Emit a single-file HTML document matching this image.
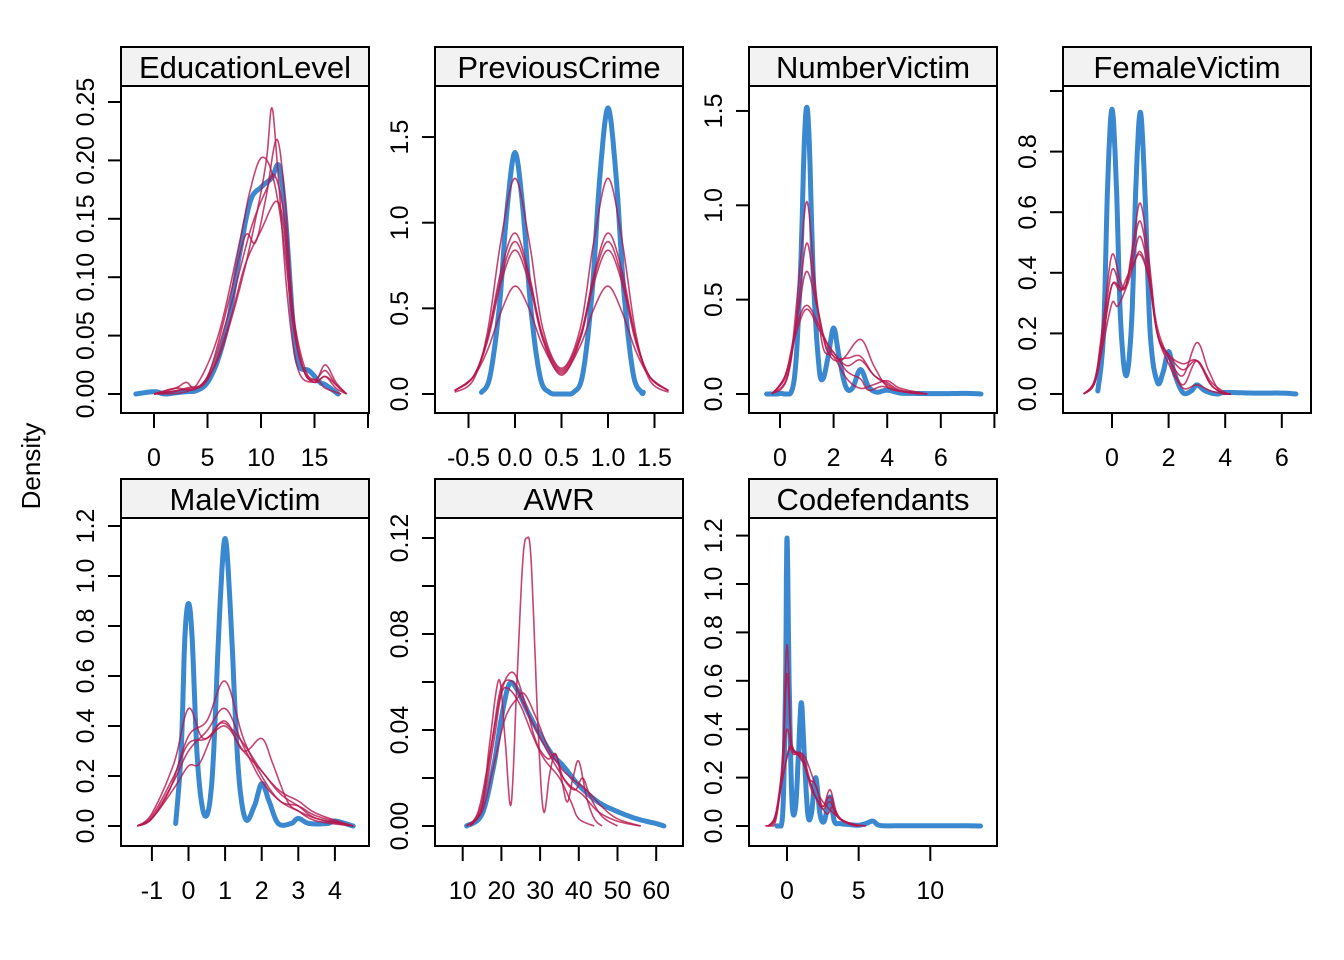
<!DOCTYPE html>
<html><head><meta charset="utf-8"><style>
html,body{margin:0;padding:0;background:#fff;}
svg{display:block;font-family:"Liberation Sans",Arial,sans-serif;}
</style></head><body>
<svg id="chart" width="1344" height="960" viewBox="0 0 1344 960">
<rect width="1344" height="960" fill="#fff"/>
<text x="40" y="466" transform="rotate(-90 40 466)" text-anchor="middle" font-size="26">Density</text>
</svg>
<script>
// ---- data (density knots: [x, density]) ----
const eduBlue=[[-1.7,0],[0,0.002],[1,0],[2,0.001],[3,0.002],[4,0.003],[5,0.01],[6,0.03],[7,0.065],[8,0.12],[9,0.165],[10,0.177],[11,0.185],[11.7,0.195],[12.3,0.15],[13,0.06],[13.5,0.025],[14.5,0.02],[15.5,0.01],[16,0.008],[17.2,0]];
const eduReds=[
[[0,0],[2,0.005],[4,0.005],[6,0.03],[8,0.09],[9.5,0.15],[10.5,0.2],[11,0.245],[11.5,0.2],[12.5,0.08],[13.5,0.02],[15,0.01],[16,0.015],[17,0.005],[18,0]],
[[0,0],[3,0.005],[5,0.015],[7,0.08],[8.5,0.135],[9.5,0.13],[10.5,0.17],[11.5,0.218],[12.3,0.16],[13,0.07],[14,0.02],[15,0.012],[16,0.02],[17,0.008],[18,0]],
[[0,0],[2,0.005],[3,0.01],[4,0.008],[6,0.05],[8,0.13],[9,0.175],[10,0.202],[11,0.19],[12,0.14],[13,0.06],[14,0.02],[15.5,0.01],[16,0.005],[17.5,0]],
[[0,0],[3,0.002],[5,0.015],[7,0.07],[9,0.14],[10.5,0.175],[11.3,0.187],[12.2,0.15],[13,0.07],[14,0.025],[15,0.01],[16,0.025],[17,0.01],[18,0]],
[[0,0],[3,0.004],[5,0.012],[7,0.06],[8.5,0.11],[10,0.14],[11.5,0.165],[12.3,0.13],[13,0.06],[14,0.02],[15,0.01],[16,0.015],[17,0.008],[18,0]]];
const prevBlue=[[-0.36,0.01],[-0.27,0.1],[-0.17,0.5],[-0.09,1.05],[0,1.41],[0.09,1.05],[0.17,0.5],[0.27,0.1],[0.37,0.01],[0.5,0],[0.63,0.01],[0.73,0.12],[0.83,0.6],[0.91,1.25],[1,1.67],[1.09,1.25],[1.17,0.6],[1.27,0.12],[1.36,0.01],[1.38,0.01]];
const prevReds=[
[[-0.65,0.01],[-0.45,0.08],[-0.3,0.35],[-0.15,0.9],[0,1.26],[0.15,0.9],[0.3,0.38],[0.5,0.15],[0.7,0.38],[0.85,0.9],[1,1.26],[1.15,0.9],[1.3,0.35],[1.45,0.08],[1.65,0.01]],
[[-0.65,0.02],[-0.45,0.1],[-0.3,0.32],[-0.15,0.72],[0,0.94],[0.15,0.7],[0.3,0.32],[0.5,0.11],[0.7,0.32],[0.85,0.7],[1,0.94],[1.15,0.72],[1.3,0.32],[1.45,0.1],[1.65,0.02]],
[[-0.65,0.02],[-0.45,0.1],[-0.3,0.32],[-0.15,0.68],[0,0.89],[0.15,0.68],[0.3,0.34],[0.5,0.14],[0.7,0.34],[0.85,0.68],[1,0.89],[1.15,0.68],[1.3,0.32],[1.45,0.1],[1.65,0.02]],
[[-0.65,0.02],[-0.45,0.1],[-0.3,0.3],[-0.15,0.65],[0,0.84],[0.15,0.65],[0.3,0.32],[0.5,0.13],[0.7,0.32],[0.85,0.65],[1,0.84],[1.15,0.65],[1.3,0.3],[1.45,0.1],[1.65,0.02]],
[[-0.65,0.02],[-0.45,0.1],[-0.3,0.25],[-0.15,0.48],[0,0.63],[0.15,0.5],[0.3,0.28],[0.5,0.12],[0.7,0.28],[0.85,0.5],[1,0.63],[1.15,0.48],[1.3,0.25],[1.45,0.1],[1.65,0.02]]];
const numBlue=[[-0.5,0],[0,0.003],[0.5,0.05],[0.75,0.6],[0.9,1.3],[1,1.52],[1.1,1.3],[1.25,0.6],[1.45,0.15],[1.6,0.08],[1.8,0.2],[2,0.35],[2.2,0.2],[2.45,0.04],[2.7,0.03],[3,0.13],[3.3,0.04],[3.6,0.01],[4,0.02],[4.5,0.005],[5,0.003],[6,0.002],[7,0.003],[7.5,0]];
const numReds=[
[[-0.3,0],[0.3,0.1],[0.7,0.6],[1,1.02],[1.3,0.6],[1.6,0.25],[2,0.2],[2.5,0.08],[3,0.03],[3.5,0.05],[4,0.07],[4.5,0.03],[5.5,0]],
[[-0.3,0],[0.3,0.1],[0.7,0.5],[1,0.8],[1.3,0.55],[1.7,0.25],[2,0.22],[2.5,0.12],[3,0.08],[3.3,0.02],[3.8,0.04],[4.3,0.02],[5.2,0]],
[[-0.3,0],[0.3,0.12],[0.7,0.45],[1,0.65],[1.4,0.45],[1.8,0.22],[2.3,0.18],[3,0.29],[3.5,0.15],[4,0.04],[4.7,0.01],[5.5,0]],
[[-0.3,0],[0.2,0.1],[0.6,0.35],[1,0.47],[1.5,0.35],[2,0.2],[2.5,0.19],[3,0.2],[3.5,0.1],[4,0.06],[4.5,0.02],[5.5,0]],
[[-0.3,0],[0.2,0.1],[0.6,0.32],[1,0.45],[1.5,0.33],[2,0.22],[2.5,0.15],[3,0.18],[3.5,0.1],[4,0.05],[4.5,0.015],[5.5,0]]];
const femBlue=[[-0.5,0.01],[-0.3,0.2],[-0.15,0.7],[0,0.94],[0.15,0.7],[0.3,0.25],[0.5,0.06],[0.7,0.25],[0.85,0.7],[1,0.93],[1.15,0.7],[1.35,0.2],[1.6,0.04],[1.8,0.07],[2,0.14],[2.2,0.07],[2.5,0.005],[2.8,0.01],[3,0.03],[3.3,0.01],[3.7,0],[4,0.005],[5,0.003],[6,0.003],[6.5,0]];
const femReds=[
[[-1,0],[-0.6,0.05],[-0.3,0.25],[0,0.46],[0.3,0.37],[0.5,0.36],[0.75,0.5],[1,0.63],[1.3,0.45],[1.6,0.2],[2,0.12],[2.5,0.06],[3,0.17],[3.4,0.08],[3.8,0.01],[4.2,0]],
[[-1,0],[-0.6,0.05],[-0.3,0.22],[0,0.41],[0.3,0.35],[0.5,0.36],[0.75,0.48],[1,0.57],[1.3,0.42],[1.6,0.2],[2,0.13],[2.5,0.08],[3,0.11],[3.5,0.04],[4,0.005],[4.2,0]],
[[-1,0],[-0.6,0.04],[-0.3,0.2],[0,0.36],[0.3,0.35],[0.5,0.36],[0.75,0.45],[1,0.52],[1.3,0.4],[1.6,0.22],[2,0.12],[2.5,0.03],[3,0.11],[3.5,0.03],[4,0],[4.2,0]],
[[-1,0],[-0.6,0.04],[-0.3,0.17],[0,0.3],[0.2,0.29],[0.5,0.35],[0.75,0.42],[1,0.47],[1.3,0.38],[1.6,0.2],[2,0.1],[2.5,0.02],[3,0.03],[3.5,0.01],[4,0],[4.2,0]],
[[-1,0],[-0.6,0.04],[-0.3,0.2],[0,0.36],[0.3,0.34],[0.5,0.38],[0.75,0.43],[1,0.46],[1.3,0.38],[1.6,0.2],[2,0.13],[2.5,0.1],[3,0.11],[3.5,0.03],[4,0],[4.2,0]]];
const maleBlue=[[-0.35,0.01],[-0.2,0.3],[-0.1,0.75],[0,0.89],[0.1,0.75],[0.25,0.25],[0.45,0.04],[0.65,0.2],[0.85,0.85],[1,1.15],[1.15,0.85],[1.35,0.25],[1.55,0.03],[1.8,0.08],[2,0.17],[2.2,0.1],[2.45,0.01],[2.8,0.01],[3,0.03],[3.3,0.01],[3.8,0.01],[4,0.02],[4.5,0]];
const maleReds=[
[[-1.4,0],[-1,0.03],[-0.5,0.15],[0,0.36],[0.5,0.42],[1,0.58],[1.5,0.35],[2,0.2],[2.5,0.1],[3,0.08],[3.5,0.04],[4.5,0]],
[[-1.4,0],[-1,0.05],[-0.4,0.25],[0,0.47],[0.4,0.35],[1,0.4],[1.5,0.3],[2,0.22],[2.5,0.13],[3,0.08],[3.5,0.03],[4.5,0]],
[[-1.4,0],[-1,0.04],[-0.4,0.2],[0,0.33],[0.5,0.35],[1,0.42],[1.5,0.3],[2,0.35],[2.3,0.25],[2.7,0.1],[3,0.06],[3.5,0.02],[4.5,0]],
[[-1.4,0],[-1,0.03],[-0.4,0.15],[0,0.24],[0.3,0.25],[0.7,0.38],[1,0.41],[1.5,0.33],[2,0.22],[2.5,0.14],[3,0.1],[3.5,0.05],[4.5,0]],
[[-1.4,0],[-1,0.03],[-0.4,0.18],[0,0.3],[0.5,0.38],[1,0.47],[1.5,0.32],[2,0.18],[2.5,0.1],[3,0.06],[3.5,0.03],[4.5,0]]];
const awrBlue=[[11,0],[15,0.005],[18,0.025],[20,0.045],[22,0.059],[24,0.057],[27,0.047],[30,0.038],[33,0.03],[36,0.025],[40,0.017],[45,0.01],[50,0.006],[55,0.003],[60,0.001],[62,0]];
const awrReds=[
[[12,0],[15,0.008],[17,0.035],[19.4,0.061],[21,0.035],[22.5,0.009],[24,0.06],[25.5,0.11],[26.6,0.12],[27.7,0.11],[29.5,0.04],[30.9,0.006],[32.5,0.022],[34,0.03],[35.5,0.02],[37,0.01],[38.5,0.02],[40,0.027],[42,0.012],[44,0.003],[46,0]],
[[11,0],[14,0.006],[17,0.03],[20,0.056],[23,0.064],[26,0.052],[29,0.035],[32,0.028],[34,0.03],[36,0.02],[39,0.015],[41,0.02],[43,0.012],[46,0.004],[50,0]],
[[11,0],[15,0.006],[18,0.025],[21,0.045],[24,0.053],[26,0.055],[29,0.045],[32,0.033],[35,0.025],[38,0.02],[42,0.015],[46,0.008],[50,0.003],[56,0]],
[[12,0],[15,0.008],[18,0.035],[20,0.055],[22,0.057],[25,0.05],[28,0.038],[31,0.028],[35,0.02],[38,0.01],[40,0.003],[44,0]],
[[12,0],[15,0.01],[18,0.04],[20,0.058],[23,0.06],[26,0.05],[29,0.04],[33,0.028],[37,0.018],[41,0.013],[45,0.006],[50,0.002],[56,0]]];
const codBlue=[[-0.7,0],[-0.3,0.05],[-0.1,0.6],[0,1.19],[0.15,0.6],[0.35,0.1],[0.6,0.08],[0.8,0.3],[1,0.51],[1.2,0.3],[1.45,0.05],[1.7,0.05],[2,0.2],[2.3,0.05],[2.6,0.02],[3,0.12],[3.3,0.02],[3.7,0.01],[4.5,0.005],[5,0.003],[5.5,0.01],[6,0.02],[6.5,0.002],[8,0.001],[10,0.001],[12,0.001],[13.5,0]];
const codReds=[
[[-1.5,0],[-0.8,0.02],[-0.3,0.3],[0,0.75],[0.3,0.35],[0.7,0.3],[1.2,0.25],[1.7,0.15],[2,0.12],[2.5,0.08],[3,0.12],[3.5,0.04],[4.3,0.01],[5,0]],
[[-1.5,0],[-0.8,0.03],[-0.3,0.25],[0,0.63],[0.3,0.35],[0.8,0.3],[1.2,0.27],[1.8,0.15],[2.2,0.1],[2.8,0.05],[3.2,0.08],[3.7,0.03],[4.5,0.005],[5,0]],
[[-1.3,0],[-0.8,0.05],[-0.3,0.25],[0,0.4],[0.4,0.3],[1,0.3],[1.5,0.2],[2,0.17],[2.5,0.08],[3,0.15],[3.5,0.05],[4.3,0.01],[5.5,0]],
[[-1.3,0],[-0.8,0.04],[-0.3,0.2],[0.2,0.33],[0.6,0.3],[1,0.28],[1.5,0.2],[2,0.12],[2.5,0.07],[3,0.1],[3.5,0.04],[4.5,0.01],[5.5,0]],
[[-1.3,0],[-0.8,0.04],[-0.3,0.2],[0.2,0.32],[0.6,0.3],[1.2,0.29],[1.8,0.2],[2.3,0.12],[2.8,0.08],[3.3,0.05],[4,0.02],[5,0]]];
const panelTitles=["EducationLevel","PreviousCrime","NumberVictim","FemaleVictim","MaleVictim","AWR","Codefendants"];
const xTickValues=[[0,5,10,15,20],[-0.5,0,0.5,1,1.5],[0,2,4,6,8],[0,2,4,6],[-1,0,1,2,3,4],[10,20,30,40,50,60],[0,5,10]];
const xTickLabels=[["0","5","10","15",""],["-0.5","0.0","0.5","1.0","1.5"],["0","2","4","6",""],["0","2","4","6"],["-1","0","1","2","3","4"],["10","20","30","40","50","60"],["0","5","10"]];
const yTickValues=[[0,0.05,0.1,0.15,0.2,0.25],[0,0.5,1,1.5],[0,0.5,1,1.5],[0,0.2,0.4,0.6,0.8,1.0],[0,0.2,0.4,0.6,0.8,1,1.2],[0,0.02,0.04,0.06,0.08,0.1,0.12],[0,0.2,0.4,0.6,0.8,1,1.2]];
const yTickLabels=[["0.00","0.05","0.10","0.15","0.20","0.25"],["0.0","0.5","1.0","1.5"],["0.0","0.5","1.0","1.5"],["0.0","0.2","0.4","0.6","0.8",""],["0.0","0.2","0.4","0.6","0.8","1.0","1.2"],["0.00","","0.04","","0.08","","0.12"],["0.0","0.2","0.4","0.6","0.8","1.0","1.2"]];
const blueSeries=[eduBlue,prevBlue,numBlue,femBlue,maleBlue,awrBlue,codBlue];
const redSeries=[eduReds,prevReds,numReds,femReds,maleReds,awrReds,codReds];

// ---- layout (pixel geometry of each panel) ----
const layout=[
{box:[121,86,369,413],x0:154,xs:10.7,y0:394,ys:1168},
{box:[435,86,683,413],x0:515,xs:93,y0:394,ys:171.3},
{box:[749,86,997,413],x0:780,xs:26.8,y0:394,ys:188.7},
{box:[1063,86,1311,413],x0:1112,xs:28.3,y0:394,ys:303},
{box:[121,518,369,846],x0:188.5,xs:36.6,y0:826,ys:250},
{box:[435,518,683,846],x0:424,xs:3.87,y0:826,ys:2400},
{box:[749,518,997,846],x0:787,xs:14.33,y0:826,ys:242}];

const NS="http://www.w3.org/2000/svg";
const svg=document.getElementById('chart');
function mk(tag,attrs,parent){const e=document.createElementNS(NS,tag);for(const k in attrs)e.setAttribute(k,attrs[k]);(parent||svg).appendChild(e);return e;}

function curvePath(pts,sx,sy,base){
  const P=pts.map(p=>[sx(p[0]),sy(p[1])]);
  let d='M'+P[0][0].toFixed(1)+','+P[0][1].toFixed(1);
  for(let i=0;i<P.length-1;i++){
    const p0=P[Math.max(0,i-1)],p1=P[i],p2=P[i+1],p3=P[Math.min(P.length-1,i+2)];
    for(let t=1;t<=10;t++){
      const u=t/10,u2=u*u,u3=u2*u;
      let x=0.5*((2*p1[0])+(-p0[0]+p2[0])*u+(2*p0[0]-5*p1[0]+4*p2[0]-p3[0])*u2+(-p0[0]+3*p1[0]-3*p2[0]+p3[0])*u3);
      let y=0.5*((2*p1[1])+(-p0[1]+p2[1])*u+(2*p0[1]-5*p1[1]+4*p2[1]-p3[1])*u2+(-p0[1]+3*p1[1]-3*p2[1]+p3[1])*u3);
      if(y>base)y=base;
      d+=' L'+x.toFixed(1)+','+y.toFixed(1);
    }
  }
  return d;
}

layout.forEach((L,i)=>{
  const [l,t,r,b]=L.box;
  const sx=v=>L.x0+v*L.xs, sy=v=>L.y0-v*L.ys;
  const g=mk('g',{});
  
  
  const strip=mk('rect',{x:l,y:t-39,width:r-l,height:39,fill:'#f2f2f2',stroke:'#000','stroke-width':2},g);
  
  
  const tt=mk('text',{x:(l+r)/2,y:t-8,'text-anchor':'middle','font-size':31},g);
  tt.textContent=panelTitles[i];
  
  
  const box=mk('rect',{x:l,y:t,width:r-l,height:b-t,fill:'none',stroke:'#000','stroke-width':2},g);
  
  
  xTickValues[i].forEach((v,j)=>{
    const x=sx(v);
    const tk=mk('line',{x1:x,x2:x,y1:b,y2:b+15,stroke:'#000','stroke-width':2},g);
    
    
    if(xTickLabels[i][j]){
      const tx=mk('text',{x:x,y:b+53,'text-anchor':'middle','font-size':25},g);
      tx.textContent=xTickLabels[i][j];
      
      
    }
  });
  yTickValues[i].forEach((v,j)=>{
    const y=sy(v);
    const tk=mk('line',{x1:l-13,x2:l,y1:y,y2:y,stroke:'#000','stroke-width':2},g);
    
    
    if(yTickLabels[i][j]){
      const bx=l-27;
      const tx=mk('text',{x:bx,y:y,'text-anchor':'middle','font-size':25,transform:'rotate(-90 '+bx+' '+y+')'},g);
      tx.textContent=yTickLabels[i][j];
      
      
    }
  });
  const bl=mk('path',{d:curvePath(blueSeries[i],sx,sy,L.y0),fill:'none',stroke:'#3a88d0','stroke-width':5,'stroke-linejoin':'round','stroke-linecap':'round'},g);
  
  
  redSeries[i].forEach((s,k)=>{
    const rp=mk('path',{d:curvePath(s,sx,sy,L.y0),fill:'none',stroke:'#b8154b','stroke-opacity':0.8,'stroke-width':1.6,'stroke-linejoin':'round'},g);
    
    
  });
});
</script>
</body></html>
